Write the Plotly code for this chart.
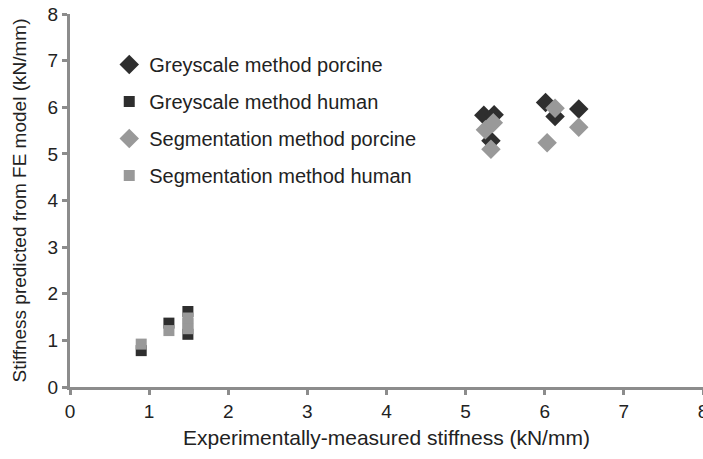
import plotly.graph_objects as go

# Data
gs_porcine_x = [5.23, 5.36, 5.32, 6.01, 6.13, 6.43]
gs_porcine_y = [5.83, 5.84, 5.28, 6.10, 5.80, 5.96]
gs_human_x = [0.90, 1.25, 1.49, 1.49]
gs_human_y = [0.78, 1.37, 1.62, 1.13]
seg_porcine_x = [5.25, 5.35, 5.32, 6.03, 6.13, 6.43]
seg_porcine_y = [5.52, 5.67, 5.10, 5.24, 5.98, 5.57]
seg_human_x = [0.90, 1.25, 1.49, 1.49, 1.49]
seg_human_y = [0.92, 1.21, 1.48, 1.36, 1.25]
axis_ticks = [0, 1, 2, 3, 4, 5, 6, 7, 8]

dark = "#2e2e2e"
grey = "#999999"

fig = go.Figure()
fig.add_trace(go.Scatter(x=gs_porcine_x, y=gs_porcine_y, mode="markers",
                         name="Greyscale method porcine", legendgroup="a",
                         marker=dict(symbol="diamond", size=15, color=dark)))
fig.add_trace(go.Scatter(x=gs_human_x, y=gs_human_y, mode="markers",
                         name="Greyscale method human", legendgroup="b",
                         marker=dict(symbol="square", size=11, color=dark)))
fig.add_trace(go.Scatter(x=seg_porcine_x, y=seg_porcine_y, mode="markers",
                         name="Segmentation method porcine", legendgroup="c",
                         marker=dict(symbol="diamond", size=15, color=grey)))
fig.add_trace(go.Scatter(x=seg_human_x, y=seg_human_y, mode="markers",
                         name="Segmentation method human", legendgroup="d",
                         marker=dict(symbol="square", size=11, color=grey)))

axis_common = dict(showgrid=False, zeroline=False, showline=True,
                   linecolor="#8c8c8c", linewidth=3, ticks="outside",
                   tickcolor="#8c8c8c", tickwidth=3, ticklen=5,
                   tickfont=dict(size=19, color="#222222"),
                   tickmode="array", tickvals=axis_ticks,
                   ticktext=[str(t) for t in axis_ticks], automargin=False)

fig.update_layout(
    width=703, height=459,
    margin=dict(l=70, r=0, t=14, b=72),
    plot_bgcolor="white", paper_bgcolor="white",
    font=dict(family="Liberation Sans, Arial, sans-serif", color="#222222"),
    xaxis=dict(range=[0, 8.0], ticklabeloverflow="allow",
               title=dict(text="Experimentally-measured stiffness (kN/mm)",
                          font=dict(size=21), standoff=10), **axis_common),
    yaxis=dict(range=[0, 8], title=dict(text="Stiffness predicted from FE model (kN/mm)",
               font=dict(size=19), standoff=16), **axis_common),
    legend=dict(x=0.062, y=0.917, xanchor="left", yanchor="top",
                font=dict(size=20, color="#222222"), tracegroupgap=8,
                bgcolor="rgba(0,0,0,0)"),
    showlegend=True,
)

fig.write_html("out.html")
